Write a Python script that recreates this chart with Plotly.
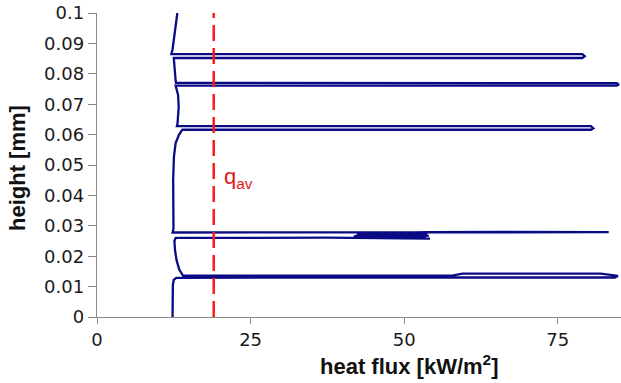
import plotly.graph_objects as go

# heat flux profile (kW/m^2) vs height (mm)
# (each row of the two lists below holds the same number of points)
flux = [
    12.30, 12.30, 12.35, 12.50, 12.90,                       # bottom
    60.0, 84.3, 84.8, 82.0, 59.5, 58.0, 14.0,                # peak ~0.013
    13.40, 12.95, 12.70, 12.60, 12.80,                       # bulge
    37.5, 54.2, 41.8, 53.5, 42.0, 54.0, 42.3, 53.8, 42.5,    # cluster ~0.027
    54.0, 66.0, 83.0, 83.3, 80.0, 12.3,                      # peak ~0.028
    12.45, 12.43, 12.40, 12.52, 12.80, 13.34, 13.89,         # middle
    80.4, 80.8, 80.4, 13.0,                                  # peak ~0.062
    13.10, 13.30, 13.20, 12.96, 12.80,
    84.6, 84.95, 84.6, 12.85,                                # peak ~0.0765
    12.80, 12.64, 12.43, 12.50,
    79.0, 79.4, 79.0, 12.10,                                 # peak ~0.086
    12.30, 12.52, 12.80, 13.08,                              # top
]
height = [
    0.0000, 0.0060, 0.0105, 0.0122, 0.0129,
    0.0130, 0.0130, 0.0135, 0.01425, 0.01425, 0.0137, 0.0136,
    0.0155, 0.0187, 0.0220, 0.0250, 0.0260,
    0.0261, 0.0258, 0.0264, 0.0263, 0.0267, 0.0267, 0.0271, 0.0271, 0.0275,
    0.0279, 0.0280, 0.0280, 0.0279, 0.0278, 0.0278,
    0.0290, 0.0310, 0.0450, 0.0527, 0.0572, 0.0599, 0.0616,
    0.0616, 0.0621, 0.0628, 0.0628,
    0.0635, 0.0690, 0.0730, 0.0753, 0.0761,
    0.0761, 0.0765, 0.0769, 0.0770,
    0.0778, 0.0808, 0.0845, 0.0852,
    0.0852, 0.0858, 0.0865, 0.0865,
    0.0880, 0.0913, 0.0956, 0.1000,
]
assert len(flux) == len(height)

q_av = 19.0
q_av_height = [0.0, 0.1]

y_ticks = [0, 0.01, 0.02, 0.03, 0.04, 0.05, 0.06, 0.07, 0.08, 0.09, 0.1]
y_tick_text = ["0", "0.01", "0.02", "0.03", "0.04", "0.05", "0.06", "0.07", "0.08", "0.09", "0.1"]
x_ticks = [0, 25, 50, 75]
x_tick_text = ["0", "25", "50", "75"]

fig = go.Figure()
fig.add_trace(go.Scatter(x=flux, y=height, mode="lines",
                         line=dict(color="#0a0a85", width=2.3), cliponaxis=False,
                         hoverinfo="skip", showlegend=False))
fig.add_trace(go.Scatter(x=[q_av, q_av], y=q_av_height, mode="lines",
                         line=dict(color="#ff1a1a", width=2.5, dash="16px,7px"),
                         hoverinfo="skip", showlegend=False))

tick_font = dict(family="DejaVu Sans", size=18, color="#1a1a1a")
fig.update_layout(
    width=621, height=383,
    margin=dict(l=97, r=0, t=13, b=66),
    paper_bgcolor="white", plot_bgcolor="white",
    xaxis=dict(range=[0, 85.3], tickvals=x_ticks, ticktext=x_tick_text,
               showgrid=False, zeroline=False, showline=True, linecolor="#8a8a8a",
               linewidth=1.3, ticks="outside", ticklen=6, tickcolor="#8a8a8a",
               tickfont=tick_font),
    yaxis=dict(range=[0, 0.1], tickvals=y_ticks, ticktext=y_tick_text,
               showgrid=False, zeroline=False, showline=True, linecolor="#8a8a8a",
               linewidth=1.3, ticks="outside", ticklen=8, tickcolor="#8a8a8a",
               tickfont=tick_font),
    annotations=[
        dict(text="<b>height [mm]</b>", xref="paper", yref="paper", x=-0.1527, y=0.49,
             textangle=-90, showarrow=False, xanchor="center", yanchor="middle",
             font=dict(family="Liberation Sans", size=22, color="#111111")),
        dict(text="<b>heat flux [kW/m<sup>2</sup>]</b>", xref="paper", yref="paper",
             x=0.596, y=-0.158, showarrow=False, xanchor="center", yanchor="middle",
             font=dict(family="Liberation Sans", size=22, color="#111111")),
        dict(text="q<sub>av</sub>", xref="x", yref="y", x=20.4, y=0.0457,
             showarrow=False, xanchor="left", yanchor="middle",
             font=dict(family="Liberation Sans", size=22, color="#e01818")),
    ],
)
fig.write_html("out.html", config={"displayModeBar": False, "staticPlot": True})

# remove the default page margin so the figure fills the window exactly
with open("out.html", "r", encoding="utf-8") as f:
    html = f.read()
html = html.replace("<body>", '<body style="margin:0;overflow:hidden">', 1)
html = html.replace("<head>", '<head><style>html,body{margin:0;padding:0;}</style>', 1)
with open("out.html", "w", encoding="utf-8") as f:
    f.write(html)
